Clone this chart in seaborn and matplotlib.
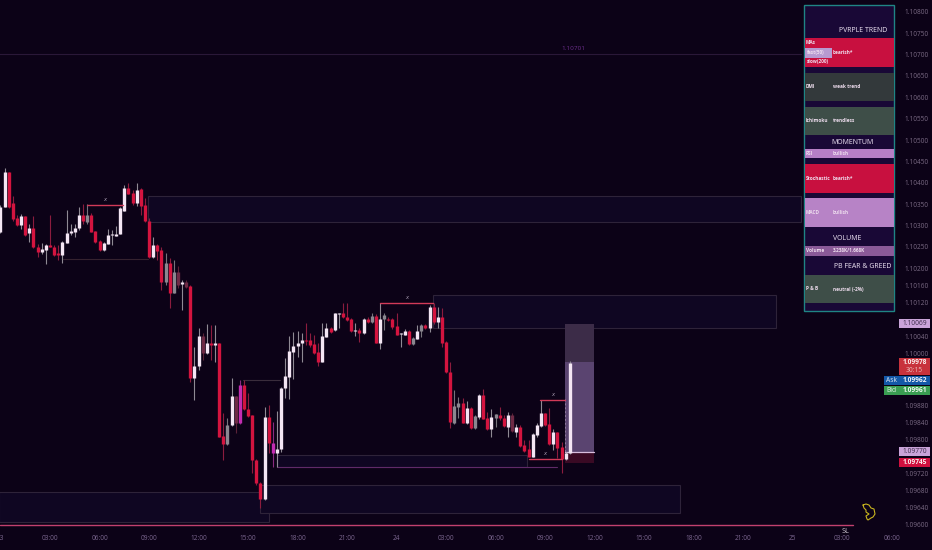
"""Recreates a dark candlestick chart with zones and a trend status panel."""

import numpy as np
import pandas as pd
import matplotlib
matplotlib.use("Agg")
import matplotlib.pyplot as plt
from matplotlib.patches import Rectangle
import seaborn as sns

# 15 minute candles, prices in 1e-5 units
body_top = [110343, 110425, 110425, 110352, 110317, 110322, 110322, 110294, 110294, 110250,
            110245, 110254, 110254, 110250, 110236, 110261, 110282, 110287, 110294, 110324,
            110324, 110324, 110324, 110287, 110263, 110259, 110278, 110280, 110280, 110341,
            110387, 110387, 110376, 110383, 110385, 110348, 110310, 110254, 110254, 110243,
            110212, 110212, 110191, 110191, 110168, 110168, 110158, 109971, 110041, 110041,
            110025, 110025, 110025, 110025, 109808, 109833, 109901, 109901, 109927, 109927,
            109871, 109857, 109752, 109698, 109852, 109852, 109791, 109777, 109920, 109948,
            110006, 110018, 110025, 110032, 110032, 110032, 110023, 110004, 110041, 110060,
            110060, 110095, 110095, 110095, 110086, 110081, 110055, 110055, 110081, 110081,
            110088, 110088, 110081, 110091, 110081, 110081, 110065, 110048, 110053, 110053,
            110037, 110053, 110067, 110067, 110109, 110109, 110086, 110086, 110027, 109957,
            109878, 109885, 109885, 109873, 109873, 109854, 109903, 109903, 109850, 109852,
            109859, 109857, 109850, 109857, 109857, 109829, 109829, 109787, 109777, 109812,
            109833, 109861, 109861, 109836, 109817, 109817, 109782, 109768, 109978]
body_bot = [110285, 110343, 110343, 110315, 110301, 110301, 110278, 110282, 110250, 110238,
            110238, 110243, 110250, 110231, 110231, 110231, 110259, 110282, 110285, 110294,
            110310, 110308, 110285, 110261, 110243, 110243, 110257, 110278, 110275, 110280,
            110334, 110373, 110352, 110352, 110345, 110310, 110226, 110226, 110240, 110168,
            110168, 110142, 110142, 110161, 110163, 110156, 109943, 109943, 109971, 110002,
            110002, 110020, 110020, 109805, 109789, 109789, 109833, 109838, 109838, 109871,
            109854, 109752, 109698, 109660, 109660, 109791, 109768, 109768, 109777, 109920,
            109946, 110004, 110018, 110025, 110030, 110020, 110002, 109981, 109981, 110039,
            110051, 110055, 110093, 110086, 110079, 110053, 110053, 110048, 110048, 110074,
            110074, 110025, 110025, 110081, 110079, 110062, 110044, 110046, 110044, 110023,
            110023, 110034, 110053, 110060, 110060, 110074, 110074, 110025, 109957, 109840,
            109838, 109875, 109838, 109838, 109826, 109826, 109852, 109847, 109824, 109824,
            109850, 109850, 109831, 109829, 109819, 109817, 109784, 109773, 109759, 109759,
            109810, 109831, 109833, 109789, 109789, 109780, 109754, 109754, 109768]
highs = [110348, 110434, 110425, 110369, 110324, 110327, 110322, 110303, 110322, 110257,
         110259, 110257, 110324, 110254, 110254, 110263, 110336, 110303, 110303, 110343,
         110350, 110350, 110329, 110287, 110266, 110261, 110292, 110289, 110299, 110343,
         110394, 110399, 110383, 110399, 110387, 110364, 110317, 110273, 110257, 110250,
         110236, 110224, 110219, 110205, 110172, 110172, 110161, 110016, 110060, 110048,
         110069, 110067, 110067, 110025, 109861, 109850, 109943, 109901, 109939, 109939,
         109908, 109857, 109754, 109700, 109875, 109880, 109840, 109866, 109922, 109990,
         110041, 110051, 110053, 110048, 110072, 110048, 110044, 110025, 110072, 110072,
         110062, 110095, 110095, 110119, 110119, 110084, 110072, 110060, 110084, 110086,
         110095, 110093, 110119, 110095, 110086, 110084, 110095, 110048, 110058, 110055,
         110039, 110067, 110069, 110069, 110114, 110119, 110109, 110107, 110030, 109981,
         109915, 109899, 109896, 109889, 109875, 109857, 109906, 109918, 109864, 109871,
         109859, 109875, 109857, 109864, 109861, 109836, 109833, 109798, 109798, 109815,
         109838, 109892, 109861, 109873, 109824, 109817, 109794, 109770, 109983]
lows = [110282, 110343, 110341, 110310, 110299, 110292, 110275, 110261, 110247, 110226,
        110233, 110210, 110250, 110228, 110219, 110212, 110259, 110278, 110273, 110289,
        110303, 110303, 110285, 110259, 110240, 110240, 110257, 110254, 110275, 110280,
        110334, 110373, 110348, 110345, 110324, 110308, 110224, 110224, 110219, 110149,
        110161, 110107, 110142, 110154, 110102, 110154, 109934, 109892, 109962, 109985,
        109999, 109985, 109981, 109805, 109752, 109787, 109831, 109815, 109836, 109868,
        109852, 109721, 109693, 109639, 109658, 109768, 109735, 109735, 109770, 109896,
        109894, 109941, 109992, 109981, 110020, 110016, 109999, 109971, 109981, 110039,
        110048, 110053, 110060, 110084, 110077, 110051, 110041, 110027, 110046, 110072,
        110072, 110025, 110011, 110055, 110077, 110058, 110044, 110016, 110044, 110020,
        110020, 110034, 110039, 110058, 110051, 110069, 110060, 110016, 109955, 109826,
        109836, 109850, 109838, 109836, 109824, 109824, 109847, 109847, 109822, 109805,
        109829, 109845, 109829, 109805, 109817, 109805, 109782, 109770, 109759, 109759,
        109805, 109829, 109831, 109787, 109775, 109756, 109721, 109752, 109766]
kinds = list("uudddududd" "uuddduuuuu" "dgddduuuuu" "uddudddudd" "gdgouoduuo" "ududdguomd"
             "ddddudmuuu" "uuuudddduu" "duudddudud" "gdugddduud" "gugdududdd" "ggdudguddu"
             "gdduoudddu" "uudduddu" "u")

# zones: start hour, end hour, top price, bottom price
zone_start = [8.94, 26.2, -0.1, 15.73, 16.75]
zone_end = [48.5, 47.0, 16.25, 41.2, 31.9]
zone_top = [110369, 110137, 109677, 109693, 109763]
zone_bottom = [110308, 110060, 109607, 109628, 109735]

# swing lines: start hour, end hour, price, label
swing_start = [5.26, 23.0, 32.7, 32.0]
swing_end = [7.42, 26.2, 34.2, 34.0]
swing_price = [110349, 110119, 109893, 109754]

# thin level lines
level_start = [3.79, 14.7, 16.75, -0.1]
level_end = [8.94, 16.94, 33.7, 48.5]
level_price = [110221, 109939, 109735, 110701]
level_color = ["#35222f", "#3a2d3c", "#5f2a68", "#2a1838"]

stop_price = 109600
stop_end = 51.67
trade_start, trade_end = 34.2, 35.97
trade_target, trade_entry, trade_open, trade_stop = 110069, 109981, 109770, 109745

hour_ticks = list(range(0, 57, 3))
hour_labels = ["23", "03:00", "06:00", "09:00", "12:00", "15:00", "18:00", "21:00", "24",
               "03:00", "06:00", "09:00", "12:00", "15:00", "18:00", "21:00", "25",
               "03:00", "06:00"]
price_ticks = [110800, 110750, 110700, 110650, 110600, 110550, 110500, 110450, 110400,
               110350, 110300, 110250, 110200, 110160, 110120, 110040, 110000,
               109880, 109840, 109800, 109720, 109680, 109640, 109600]

# status panel rows
row_labels = ["", "DMI", "Ichimoku", "RSI", "Stochastic", "MACD", "Volume", "P & B"]
row_values = ["", "weak trend", "trendless", "bullish", "bearish*", "bullish",
              "3.238K/1.668K", "neutral (-2%)"]
row_colors = ["#c8103f", "#33393b", "#3e4e48", "#b67fc6", "#c8103f", "#b783c6", "#8a5a98", "#3e4e48"]
row_tops = [38, 73, 107, 149, 164, 198, 246, 275]
row_bottoms = [67, 101, 135, 158, 193, 227, 256, 303]
headers = ["PVRPLE TREND", "MOMENTUM", "VOLUME", "PB FEAR & GREED"]

BG = "#0c0217"
FONT = "Open Sans"
CANDLE_COLORS = {"u": "#f4e6f4", "d": "#d4143f", "g": "#8b8790", "m": "#c42cb2", "o": "#6e2a45"}
WICK_COLORS = {"u": "#8f8a94", "d": "#8c1c3e", "g": "#77737c", "m": "#8a2a80", "o": "#5a2238"}

sns.set_theme(style="dark", rc={"figure.facecolor": BG, "axes.facecolor": BG, "axes.grid": False})
plt.rcParams["font.family"] = [FONT, "DejaVu Sans"]

hours = np.arange(len(kinds)) * 0.25
candles = pd.DataFrame({"hour": hours, "kind": kinds, "candle": np.arange(len(kinds)),
                        "high": highs, "low": lows, "top": body_top, "bottom": body_bot})
for col in ["high", "low", "top", "bottom"]:
    candles[col] = candles[col] / 1e5

wicks = candles.melt(id_vars=["hour", "kind", "candle"], value_vars=["high", "low"], value_name="price")
bodies = candles.melt(id_vars=["hour", "kind", "candle"], value_vars=["top", "bottom"], value_name="price")

fig = plt.figure(figsize=(9.32, 5.5), dpi=100)
ax = fig.add_axes([0, 0, 1, 1])
ax.set_xlim(-0.03, 56.45)
ax.set_ylim(1.095415, 1.108274)
sns.despine(ax=ax, left=True, bottom=True, right=True, top=True)

for x0, x1, top, bottom in zip(zone_start, zone_end, zone_top, zone_bottom):
    ax.add_patch(Rectangle((x0, bottom / 1e5), x1 - x0, (top - bottom) / 1e5, facecolor="#0f0622",
                           edgecolor="#2e2339", linewidth=0.8, zorder=1))

for x0, x1, price, color in zip(level_start, level_end, level_price, level_color):
    ax.plot([x0, x1], [price / 1e5] * 2, color=color, lw=0.8, zorder=2)
ax.text(34.0, 1.10713, "1.10701", color="#6c2f8c", fontsize=4.6, ha="left", va="center")

# trade box
ax.add_patch(Rectangle((trade_start, trade_entry / 1e5), trade_end - trade_start,
                       (trade_target - trade_entry) / 1e5, facecolor="#3c2c48", edgecolor="none", zorder=2))
ax.add_patch(Rectangle((trade_start, trade_open / 1e5), trade_end - trade_start,
                       (trade_entry - trade_open) / 1e5, facecolor="#5a4470", edgecolor="none", zorder=2))
ax.add_patch(Rectangle((trade_start, trade_stop / 1e5), trade_end - trade_start,
                       (trade_open - trade_stop) / 1e5, facecolor="#3a0a24", edgecolor="none", zorder=2))
ax.plot([trade_start, trade_end], [trade_open / 1e5] * 2, color="#d8bede", lw=0.9, zorder=3)
ax.plot([trade_start] * 2, [1.09895, trade_open / 1e5], color="#8f7a9a", lw=0.7, ls=(0, (2, 2)), zorder=3)

sns.lineplot(data=wicks, x="hour", y="price", hue="kind", palette=WICK_COLORS, units="candle",
             estimator=None, sort=False, legend=False, linewidth=0.8, solid_capstyle="butt",
             ax=ax, zorder=4)
sns.lineplot(data=bodies, x="hour", y="price", hue="kind", palette=CANDLE_COLORS, units="candle",
             estimator=None, sort=False, legend=False, linewidth=2.4, solid_capstyle="butt",
             ax=ax, zorder=5)

for x0, x1, price in zip(swing_start, swing_end, swing_price):
    ax.plot([x0, x1], [price / 1e5] * 2, color="#d23a58", lw=1.0, zorder=6)
    ax.text((x0 + x1) / 2, price / 1e5 + 0.00013, "x", color="#a89bb0", fontsize=4.6,
            style="italic", ha="center", va="center", zorder=6)

ax.plot([0, stop_end], [stop_price / 1e5] * 2, color="#c2406e", lw=1.0, zorder=6)
ax.text(51.2, 1.09585, "SL", color="#cfc8d2", fontsize=5.2, ha="center", va="center")

ax.set_xlabel("")
ax.set_ylabel("")
ax.set_xticks(hour_ticks)
ax.set_xticklabels(hour_labels)
ax.yaxis.tick_right()
ax.set_yticks([p / 1e5 for p in price_ticks])
ax.set_yticklabels([f"{p / 1e5:.5f}" for p in price_ticks])
ax.tick_params(axis="x", direction="in", length=0, pad=-10.5, labelsize=4.7, labelcolor="#7c6790")
ax.tick_params(axis="y", direction="in", length=0, pad=-19.8, labelsize=4.7, labelcolor="#7a6a84")
for label in ax.get_yticklabels():
    label.set_ha("left")

# pixel overlay for the status panel, price tags and doodle
over = fig.add_axes([0, 0, 1, 1], facecolor="none")
over.set_xlim(0, 932)
over.set_ylim(550, 0)
over.axis("off")

over.add_patch(Rectangle((804, 5), 90, 305.5, facecolor="#190836", edgecolor="#1f8585", linewidth=1.0))
for top, bottom, color in zip(row_tops, row_bottoms, row_colors):
    over.add_patch(Rectangle((805, top), 88.5, bottom - top, facecolor=color, edgecolor="none"))
for label, value, top, bottom in zip(row_labels, row_values, row_tops, row_bottoms):
    mid = (top + bottom) / 2
    over.text(806, mid, label, color="#eeddee", fontsize=3.4, weight="bold", va="center")
    over.text(833, mid, value, color="#eeddee", fontsize=3.4, weight="bold", va="center")

# moving average cells sit inside the first red row
over.add_patch(Rectangle((805, 48), 27, 9.5, facecolor="#b79ad0", edgecolor="none"))
over.text(806, 43, "MAs", color="#eeddee", fontsize=3.4, weight="bold", va="center")
over.text(807, 52.5, "fast(50)", color="#eeddee", fontsize=3.4, weight="bold", va="center")
over.text(833, 52.5, "bearish*", color="#eeddee", fontsize=3.4, weight="bold", va="center")
over.text(807, 62, "slow(200)", color="#eeddee", fontsize=3.4, weight="bold", va="center")

for text, x, y in zip(headers, [863, 853, 847, 863], [31, 142, 239, 267]):
    over.text(x, y, text, color="#eee4f4", fontsize=5.0, weight="medium", ha="center", va="center")

# price tags on the right
tag_style = dict(fontsize=4.8, ha="center", va="center")
over.add_patch(Rectangle((899, 319), 31, 9, facecolor="#c9a3d8", edgecolor="none"))
over.text(914.5, 323.5, "1.10069", color="#3a2a48", **tag_style)
over.add_patch(Rectangle((899, 358), 31, 17, facecolor="#c8323c", edgecolor="none"))
over.text(914.5, 362.5, "1.09978", color="#fbeeee", weight="bold", **tag_style)
over.text(914.5, 370.5, "30:15", color="#eab8b8", **tag_style)
over.add_patch(Rectangle((884, 375.5), 46, 9, facecolor="#1458a8", edgecolor="none"))
over.text(891, 380, "Ask", color="#e0e8f4", **tag_style)
over.text(914.5, 380, "1.09962", color="#f0f4fa", weight="bold", **tag_style)
over.add_patch(Rectangle((884, 385.5), 46, 9, facecolor="#3a9e52", edgecolor="none"))
over.text(891, 390, "Bid", color="#e4f4e8", **tag_style)
over.text(914.5, 390, "1.09961", color="#f0faf2", weight="bold", **tag_style)
over.add_patch(Rectangle((899, 447), 31, 9, facecolor="#c9a3d8", edgecolor="none"))
over.text(914.5, 451.5, "1.09770", color="#3a2a48", **tag_style)
over.add_patch(Rectangle((899, 458), 31, 9, facecolor="#d0103f", edgecolor="none"))
over.text(914.5, 462.5, "1.09745", color="#fbeeee", weight="bold", **tag_style)

# bird doodle
over.plot([863, 866, 869, 871, 874, 875, 873, 871, 868, 867, 866, 869, 866, 866, 864, 863],
          [505, 504, 505, 508, 509, 514, 517, 518, 520, 519, 516, 514, 512, 510, 508, 505],
          color="#c8b41e", lw=0.8)

fig.savefig("out.png", dpi=100, facecolor=BG)
